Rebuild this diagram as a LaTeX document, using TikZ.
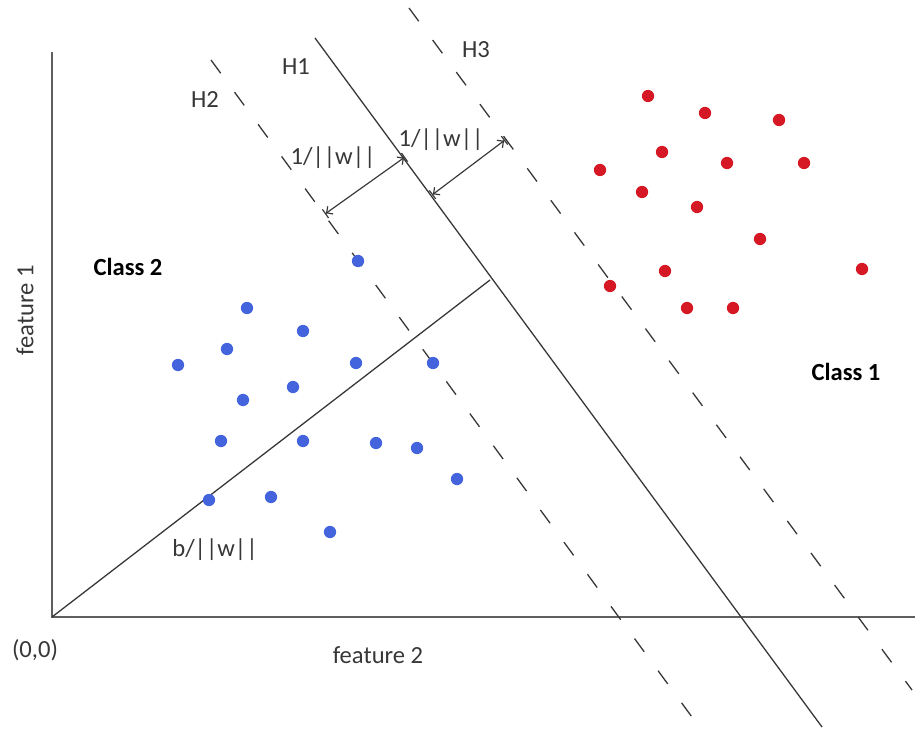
\documentclass[tikz,border=0pt]{standalone}
\usepackage{fontspec}
\setmainfont{Carlito}
\usepackage{tikz}
\usetikzlibrary{arrows.meta}
\definecolor{dotblue}{RGB}{68,100,222}
\definecolor{dotred}{RGB}{214,24,36}
\definecolor{inkgray}{RGB}{55,55,55}
\tikzset{
  axisline/.style = {draw=inkgray!80, line width=1.8pt},
  hyp/.style      = {draw=inkgray, line width=1.1pt},
  hypdash/.style  = {hyp, dash pattern=on 14pt off 20pt},
  bdot/.style     = {circle, fill=dotblue, inner sep=0pt, minimum size=10.5pt},
  rdot/.style     = {circle, fill=dotred, inner sep=0pt, minimum size=10.5pt},
  marg/.style     = {draw=inkgray, line width=1pt,
                     {Bar[width=9pt]Straight Barb[length=4pt]}-{Straight Barb[length=4pt]Bar[width=9pt]}},
  lbl/.style      = {font=\fontsize{21}{23}\selectfont, text=inkgray, inner sep=1pt},
  clsl/.style     = {lbl, font=\fontsize{21}{23}\selectfont\bfseries, text=black},
}
\begin{document}
\begin{tikzpicture}[x=0.03cm, y=-0.03cm]
  \useasboundingbox (0,0) rectangle (915,732);
  % axes
  \coordinate (O) at (52,617);
  \coordinate (ytop) at (52,52);
  \coordinate (xend) at (915,617);
  \draw[axisline] (ytop) -- (O) -- (xend);
  % hyperplanes
  \coordinate (h1a) at (315,38);  \coordinate (h1b) at (822,727);
  \coordinate (h2a) at (211,60);  \coordinate (h2b) at (700,728);
  \coordinate (h3a) at (409,8);   \coordinate (h3b) at (912,690);
  \draw[hyp] (h1a) -- (h1b);
  \draw[hypdash] (h2a) -- (h2b);
  \draw[hypdash] (h3a) -- (h3b);
  % offset b/||w||
  \coordinate (foot) at (490,280);
  \draw[hyp] (O) -- (foot);
  % margins
  \coordinate (m1a) at (325,214); \coordinate (m1b) at (405,157);
  \coordinate (m2a) at (432,195); \coordinate (m2b) at (505,140);
  \draw[marg] (m1a) -- (m1b);
  \draw[marg] (m2a) -- (m2b);
  % class 2 points
  \foreach \px/\py [count=\i] in {358/261, 247/308, 303/331, 227/349, 178/365,
      356/363, 433/363, 293/387, 243/400, 221/441, 303/441, 376/443,
      417/448, 457/479, 209/500, 271/497, 330/532}
    \node[bdot] (b\i) at (\px,\py) {};
  % class 1 points
  \foreach \px/\py [count=\i] in {648/96, 705/113, 779/120, 662/152, 600/170,
      727/163, 804/163, 642/192, 697/207, 760/239, 665/271, 862/269,
      610/286, 687/308, 733/308}
    \node[rdot] (r\i) at (\px,\py) {};
  % labels
  \node[lbl] (lh1) at (296,67) {H1};
  \node[lbl] (lh2) at (205,100) {H2};
  \node[lbl] (lh3) at (476,50) {H3};
  \node[lbl] (lm1) at (333,158) {1/||w||};
  \node[lbl] (lm2) at (441,140) {1/||w||};
  \node[lbl] (lb)  at (215,550) {b/||w||};
  \node[clsl] (c2) at (128,267) {Class 2};
  \node[clsl] (c1) at (846,372) {Class 1};
  \node[lbl, rotate=90] (f1) at (25,310) {feature 1};
  \node[lbl] (f2) at (378,655) {feature 2};
  \node[lbl] (org) at (35,650) {(0,0)};
\end{tikzpicture}
\end{document}
